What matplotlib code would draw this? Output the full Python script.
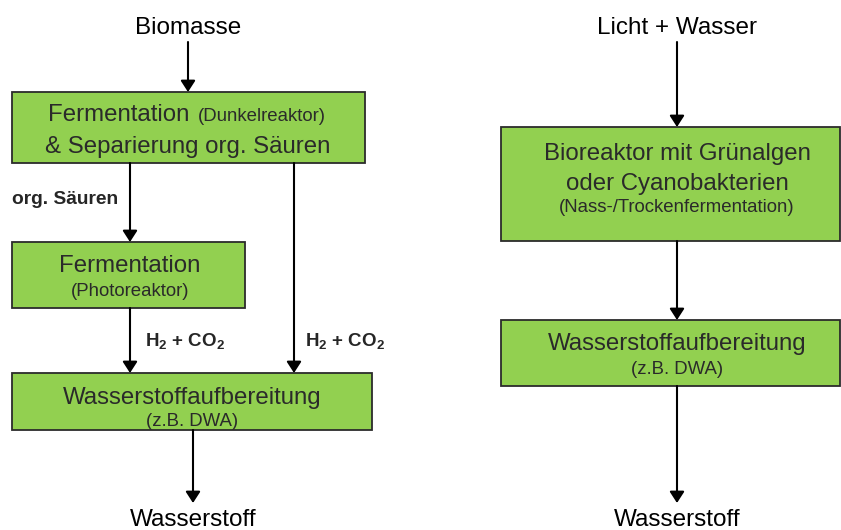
import matplotlib
matplotlib.use("Agg")
import matplotlib.pyplot as plt
from matplotlib.patches import Rectangle

plt.rcParams['font.family'] = ['Liberation Sans', 'DejaVu Sans']
plt.rcParams['mathtext.fontset'] = 'custom'
plt.rcParams['mathtext.rm'] = 'Liberation Sans:bold'
plt.rcParams['mathtext.bf'] = 'Liberation Sans:bold'
plt.rcParams['mathtext.default'] = 'bf'

# ---- content ----
inputs = ["Biomasse", "Licht + Wasser"]
outputs = ["Wasserstoff", "Wasserstoff"]
box_main = ["Fermentation", "& Separierung org. Säuren", "Fermentation",
            "Wasserstoffaufbereitung", "Bioreaktor mit Grünalgen",
            "oder Cyanobakterien", "Wasserstoffaufbereitung"]
box_sub = ["(Dunkelreaktor)", "(Photoreaktor)", "(z.B. DWA)",
           "(Nass-/Trockenfermentation)", "(z.B. DWA)"]
flow_labels = ["org. Säuren", "H$_2$ + CO$_2$"]

GREEN = "#92D050"
EDGE = "#2b2b2b"
TXT = "#2a2a2a"
FS_LBL = 17.5
FS_MAIN = 17.3
FS_SUB = 13.4

fig = plt.figure(figsize=(8.41, 5.30), dpi=100)
ax = fig.add_axes([0, 0, 1, 1])
ax.set_xlim(0, 841)
ax.set_ylim(530, 0)
ax.axis('off')

def box(x0, y0, x1, y1):
    ax.add_patch(Rectangle((x0, y0), x1 - x0, y1 - y0, facecolor=GREEN,
                           edgecolor=EDGE, linewidth=1.3, zorder=2))

def arrow(x, y0, y1):
    ax.annotate("", xy=(x, y1), xytext=(x, y0),
                arrowprops=dict(arrowstyle='-|>,head_length=0.34,head_width=0.22',
                                mutation_scale=20, color='black', lw=1.5,
                                shrinkA=0, shrinkB=0),
                zorder=3)

# ---- left chain ----
ax.text(188, 28, inputs[0], ha='center', va='center', fontsize=FS_LBL, color='black')
arrow(188, 42, 92)
box(12, 92, 365, 163)
ax.text(48, 121, box_main[0], ha='left', va='baseline', fontsize=FS_MAIN, color=TXT)
ax.text(198, 121, box_sub[0], ha='left', va='baseline', fontsize=FS_SUB, color=TXT)
ax.text(188, 147, box_main[1], ha='center', va='center', fontsize=FS_MAIN, color=TXT)

ax.text(12, 199, flow_labels[0], ha='left', va='center', fontsize=13.8,
        fontweight='bold', color='#262626')
arrow(130, 163, 242)
arrow(294, 163, 373)

box(12, 242, 245, 308)
ax.text(130, 266, box_main[2], ha='center', va='center', fontsize=FS_MAIN, color=TXT)
ax.text(130, 291, box_sub[1], ha='center', va='center', fontsize=FS_SUB, color=TXT)

arrow(130, 308, 373)
ax.text(145, 341, flow_labels[1], ha='left', va='center', fontsize=13.5,
        fontweight='bold', color='#262626')
ax.text(305, 341, flow_labels[1], ha='left', va='center', fontsize=13.5,
        fontweight='bold', color='#262626')

box(12, 373, 372, 430)
ax.text(192, 398, box_main[3], ha='center', va='center', fontsize=FS_MAIN, color=TXT)
ax.text(192, 421, box_sub[2], ha='center', va='center', fontsize=FS_SUB, color=TXT)

arrow(193, 430, 503)
ax.text(193, 520, outputs[0], ha='center', va='center', fontsize=FS_LBL, color='black')

# ---- right chain ----
ax.text(677, 28, inputs[1], ha='center', va='center', fontsize=FS_LBL, color='black')
arrow(677, 42, 127)
box(501, 127, 840, 241)
ax.text(677, 154, box_main[4], ha='center', va='center', fontsize=FS_MAIN, color=TXT)
ax.text(677, 184, box_main[5], ha='center', va='center', fontsize=FS_MAIN, color=TXT)
ax.text(677, 208, box_sub[3], ha='center', va='center', fontsize=FS_SUB, color=TXT)
arrow(677, 241, 320)
box(501, 320, 840, 386)
ax.text(677, 344, box_main[6], ha='center', va='center', fontsize=FS_MAIN, color=TXT)
ax.text(677, 369, box_sub[4], ha='center', va='center', fontsize=FS_SUB, color=TXT)
arrow(677, 386, 503)
ax.text(677, 520, outputs[1], ha='center', va='center', fontsize=FS_LBL, color='black')

fig.savefig("out.png", dpi=100)
